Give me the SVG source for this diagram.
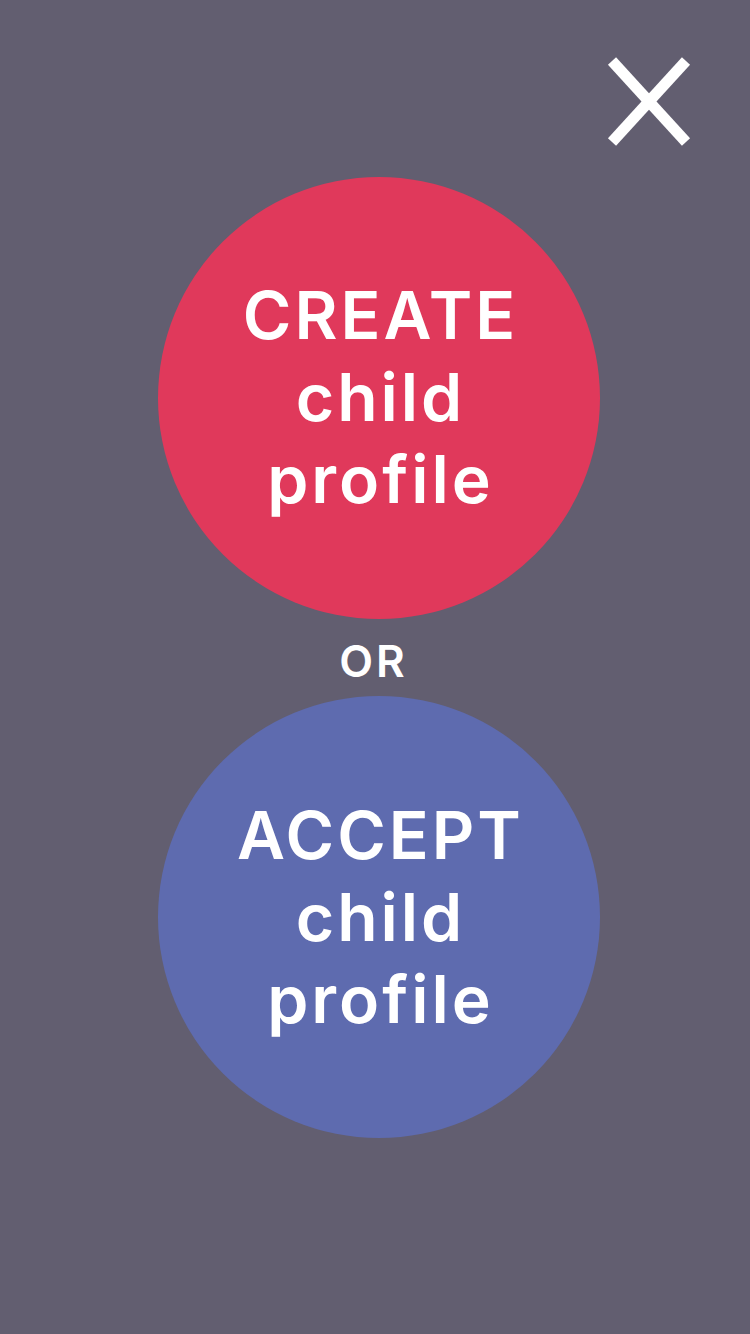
<svg xmlns="http://www.w3.org/2000/svg" width="750" height="1334" viewBox="0 0 750 1334">
<style>
.lbl{font-family:Inter,"Open Sans","Liberation Sans",sans-serif;font-weight:600;fill:#ffffff;text-anchor:middle}
.big{font-size:66px;letter-spacing:3px}
.or{font-size:44px;letter-spacing:3px}
</style>
<rect width="750" height="1334" fill="#625E70"/>
<g id="close">
<line x1="612" y1="61" x2="686" y2="142" stroke="#ffffff" stroke-width="11"/>
<line x1="686" y1="61" x2="612" y2="142" stroke="#ffffff" stroke-width="11"/>
</g>
<g id="create">
<circle cx="379" cy="398" r="221" fill="#E0395B"/>
<text class="lbl big" x="380.5" y="339">CREATE</text>
<text class="lbl big" x="380.5" y="421">child</text>
<text class="lbl big" x="380.5" y="503">profile</text>
</g>
<g id="or">
<text class="lbl or" x="373.5" y="677">OR</text>
</g>
<g id="accept">
<circle cx="379" cy="917" r="221" fill="#5E6BAF"/>
<text class="lbl big" x="380.5" y="859">ACCEPT</text>
<text class="lbl big" x="380.5" y="941">child</text>
<text class="lbl big" x="380.5" y="1023">profile</text>
</g>
<g id="connectors"/>
</svg>
